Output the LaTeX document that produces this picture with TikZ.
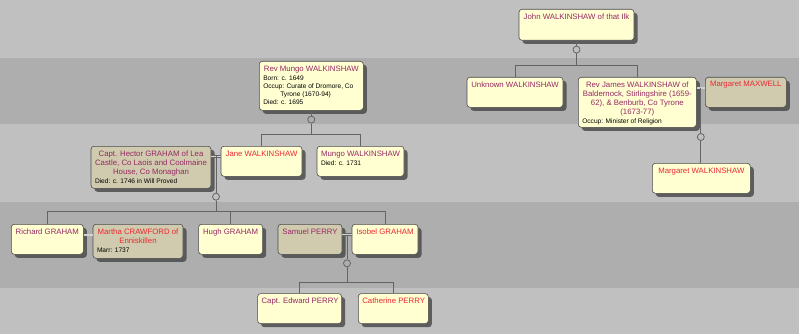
\documentclass[tikz,border=0pt]{standalone}
\usepackage{fontspec}
\setmainfont{Liberation Sans}
\usetikzlibrary{shadows,calc}

\definecolor{bandlight}{RGB}{192,192,192}
\definecolor{banddark}{RGB}{174,174,174}
\definecolor{boxyellow}{RGB}{255,255,210}
\definecolor{boxtan}{RGB}{208,203,174}
\definecolor{male}{RGB}{150,40,100}
\definecolor{female}{RGB}{236,40,48}
\definecolor{linegray}{RGB}{100,100,100}

\newcommand{\card}[3]{\parbox[c][#2pt][t]{#1pt}{\vspace*{4.3pt}#3}}
\newcommand{\nm}[2]{{\centering\fontsize{7.8}{9}\selectfont\textcolor{#1}{#2}\par}}
\newcommand{\dt}[1]{\vspace{1.5pt}{\raggedright\fontsize{6.6}{8}\selectfont #1\par}}

\tikzset{
  person/.style={draw=black!70, line width=.6pt, rounded corners=3pt, fill=boxyellow,
    anchor=north west, inner xsep=4pt, inner ysep=0pt,
    drop shadow={shadow xshift=3.5pt, shadow yshift=-3.5pt, fill=black!70, opacity=.85}},
  spouse/.style={person, fill=boxtan},
  link/.style={draw=linegray, line width=.8pt},
  couple/.style={draw=linegray, line width=.7pt, double=gray!35, double distance=1.3pt},
  knot/.style={circle, draw=linegray, line width=.8pt, minimum size=7pt, inner sep=0pt}
}

\begin{document}
\begin{tikzpicture}[x=1pt,y=-1pt]
% bands
\useasboundingbox (0,0) rectangle (799,334);
\fill[bandlight] (0,0) rectangle (799,334);
\fill[banddark] (0,58) rectangle (799,124);
\fill[banddark] (0,202) rectangle (799,288);

% people
\node[person] (john) at (518.7,9) {\card{107}{31}{\nm{male}{\mbox{John WALKINSHAW of that Ilk}}}};
\node[person] (unk) at (466.7,77) {\card{88}{30}{\nm{male}{\mbox{Unknown WALKINSHAW}}}};
\node[person] (james) at (578,77) {\card{110}{50}{\nm{male}{Rev James WALKINSHAW of\\Baldernock, Stirlingshire (1659-\\62), \& Benburb, Co Tyrone\\(1673-77)}\dt{Occup: Minister of Religion}}};
\node[spouse] (maxwell) at (705,77) {\card{73}{30}{\nm{female}{\mbox{Margaret MAXWELL}}}};
\node[person] (margw) at (652,163) {\card{90}{30}{\nm{female}{\mbox{Margaret WALKINSHAW}}}};
\node[person] (revmungo) at (259,61) {\card{96}{49}{\nm{male}{\mbox{Rev Mungo WALKINSHAW}}\dt{Born: c. 1649\\Occup: Curate of Dromore, Co\\\hspace*{17pt}Tyrone (1670-94)\\Died: c. 1695}}};
\node[spouse] (hector) at (90.7,146) {\card{112}{42}{\nm{male}{Capt. Hector GRAHAM of Lea\\Castle, Co Laois and Coolmaine\\House, Co Monaghan}\dt{Died: c. 1746 in Will Proved}}};
\node[person] (jane) at (220.7,146) {\card{73}{30}{\nm{female}{\mbox{Jane WALKINSHAW}}}};
\node[person] (mungo) at (316.7,146) {\card{79}{30}{\nm{male}{\mbox{Mungo WALKINSHAW}}\dt{Died: c. 1731}}};
\node[person] (richard) at (11,224) {\card{64}{30}{\nm{male}{\mbox{Richard GRAHAM}}}};
\node[spouse] (martha) at (92.7,224) {\card{82}{34}{\nm{female}{Martha CRAWFORD of\\Enniskillen}\dt{Marr: 1737}}};
\node[person] (hugh) at (198.3,224) {\card{56}{30}{\nm{male}{\mbox{Hugh GRAHAM}}}};
\node[spouse] (samuel) at (277.7,224) {\card{56}{30}{\nm{male}{\mbox{Samuel PERRY}}}};
\node[person] (isobel) at (351.7,224) {\card{58}{30}{\nm{female}{\mbox{Isobel GRAHAM}}}};
\node[person] (edward) at (257.3,293.3) {\card{76}{30}{\nm{male}{\mbox{Capt. Edward PERRY}}}};
\node[person] (catherine) at (358,293.3) {\card{62}{30}{\nm{female}{\mbox{Catherine PERRY}}}};

% couples
\draw[couple] ([yshift=-11pt]james.north east) -- ([yshift=-11pt]maxwell.north west);
\draw[couple] ([yshift=-10.3pt]hector.north east) -- ([yshift=-10.3pt]jane.north west);
\draw[couple] ([yshift=-11pt]richard.north east) -- ([yshift=-11pt]martha.north west);
\draw[couple] ([yshift=-10.5pt]samuel.north east) -- ([yshift=-10.5pt]isobel.north west);
\coordinate (m1) at ($(james.north east)!.5!(maxwell.north west)+(0,11)$);
\coordinate (m2) at ($(hector.north east)!.5!(jane.north west)+(0,10.3)$);
\coordinate (m3) at ($(samuel.north east)!.5!(isobel.north west)+(0,10.5)$);

% knots
\node[knot] (k1) at ($(john.south)+(0,9)$) {};
\node[knot] (k2) at ($(revmungo.south)+(0,9)$) {};
\node[knot] (k3) at ($(m1)+(0,49)$) {};
\node[knot] (k4) at ($(m2)+(0,40.4)$) {};
\node[knot] (k5) at ($(m3)+(0,28.8)$) {};
\coordinate (b1) at ($(k1)+(0,16)$);
\coordinate (b2) at ($(k2)+(0,15)$);
\coordinate (b4) at ($(k4)+(0,15)$);
\coordinate (b5) at ($(k5)+(0,19)$);

% lines
\draw[link] (john.south) -- (k1.north);
\draw[link] (k1.south) -- (b1);
\draw[link] (unk.north) |- (b1) -| (james.north);
\draw[link] (revmungo.south) -- (k2.north);
\draw[link] (k2.south) -- (b2);
\draw[link] (jane.north) |- (b2) -| (mungo.north);
\draw[link] (m1) -- (k3.north);
\draw[link] (k3.south) -- (margw.north -| k3);
\draw[link] (m2) -- (k4.north);
\draw[link] (k4.south) -- (b4);
\draw[link] (richard.north) |- (b4) -| (isobel.north);
\draw[link] (hugh.north) -- (hugh.north |- b4);
\draw[link] (m3) -- (k5.north);
\draw[link] (k5.south) -- (b5);
\draw[link] (edward.north) |- (b5) -| (catherine.north);
\end{tikzpicture}
\end{document}
